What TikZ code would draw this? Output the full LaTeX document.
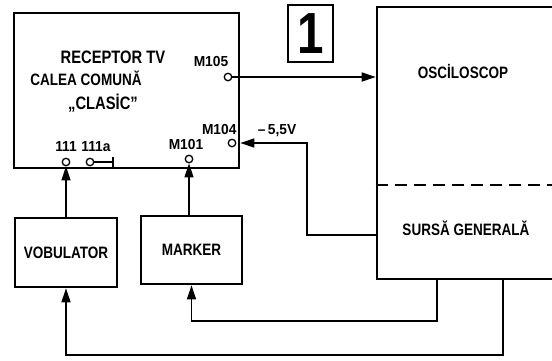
\documentclass[tikz,border=0pt]{standalone}
\usepackage{fontspec}
\setmainfont{Liberation Sans}[FakeStretch=0.82]
\newfontfamily\latfont{Liberation Sans}[FakeStretch=0.95]
\usetikzlibrary{arrows.meta}

\begin{document}
\begin{tikzpicture}[x=1pt,y=-1pt]
  \tikzset{
    blok/.style={draw, line width=2.6pt, inner sep=0pt},
    pin/.style={circle, draw, line width=1.3pt, fill=white, inner sep=0pt, minimum size=7.5pt},
    fir/.style={line width=1.5pt},
    sag/.style={fir, -{Triangle[length=14pt,width=9pt]}},
    mare/.style={font=\fontsize{18}{18}\selectfont\bfseries},
    mediu/.style={font=\fontsize{16.5}{16.5}\selectfont\bfseries},
    mic/.style={font=\latfont\fontsize{14.5}{14.5}\selectfont\bfseries}
  }
  \clip (0,0) rectangle (552,360);

  % blocuri
  \node[blok, minimum width=225pt, minimum height=155pt] (rec) at (126.5,90.5) {};
  \node[blok, minimum width=223pt, minimum height=272pt] (osc) at (488.5,143) {};
  \node[blok, minimum width=102pt, minimum height=69pt, mediu] (vob) at (66,252.5) {VOBULATOR};
  \node[blok, minimum width=101pt, minimum height=68pt, mediu] (mrk) at (191.5,250) {MARKER};
  \node[blok, minimum width=45pt, minimum height=57pt, font=\fontsize{58}{58}\selectfont\bfseries] (nr) at (310.5,33.5) {1};

  % texte
  \node[mare] (t1) at (113,57) {RECEPTOR TV};
  \node[mediu] (t2) at (86,78) {CALEA COMUNĂ};
  \node[mare] (t3) at (103,103) {„CLASİC"};
  \node[mediu] (t4) at (463,72) {OSCİLOSCOP};
  \node[mediu] (t5) at (466,228) {SURSĂ GENERALĂ};
  \draw[fir, dash pattern=on 12pt off 7pt] (osc.west |- 0,185) -- (osc.east |- 0,185);

  % borne
  \node[pin] (m105) at (228,77) {};
  \node[pin] (m104) at (232,143) {};
  \node[pin] (m101) at (189,159) {};
  \node[pin] (p111) at (66,162) {};
  \node[pin] (p111a) at (90,162) {};
  \node[mic, anchor=south] at (211,70) {M105};
  \node[mic, anchor=south east] at (240,138) {M104};
  \node[mic, anchor=south] at (186,153) {M101};
  \node[mic, anchor=south] at (66,155) {111};
  \node[mic, anchor=south] at (96,155) {111a};
  \node[mic] (u) at (277,131) {–\,5,5V};

  \coordinate (bara) at (113,162);
  \draw[fir] (p111a) -- (bara);
  \draw[line width=2.4pt] (bara) ++(0,-5) -- ++(0,10);

  % legaturi
  \coordinate (k0) at (307,235);
  \coordinate (k1) at (437,321);
  \coordinate (k2) at (503,355);
  \draw[sag] (m105) -- (m105 -| osc.west);
  \draw[sag] (k0 -| osc.west) -- (k0) |- (m104 -| rec.east);
  \draw[sag] (k1 |- osc.south) -- (k1) -| (mrk.south);
  \draw[sag] (k2 |- osc.south) -- (k2) -| (vob.south);
  \draw[sag] (vob.north) -- (p111);
  \draw[sag] (mrk.north -| m101) -- (m101);
\end{tikzpicture}
\end{document}
